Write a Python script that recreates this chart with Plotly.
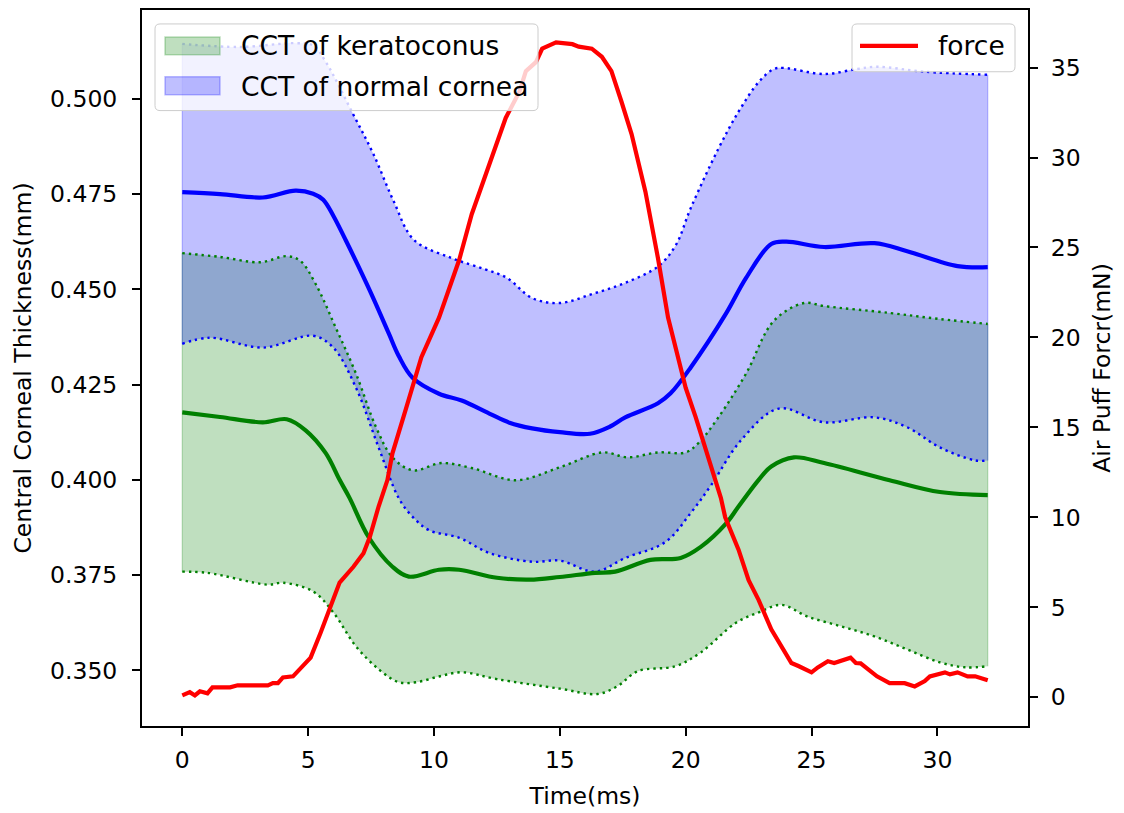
import plotly.graph_objects as go

# ---------------- data ----------------
t_blue_mean = [0, 1.5, 3.2, 4.5, 5.2, 5.6, 6.0, 6.5, 7.0, 7.6, 8.2, 8.6, 9.15, 10.2, 11.1, 12.2, 13.0,
               13.9, 15.0, 16.2, 17.0, 17.6, 18.9, 19.4, 20.2, 21.6, 22.4, 23.4, 24.0, 25.5, 27.5,
               28.8, 30.8, 32.0]
blue_mean = [0.4755, 0.4750, 0.4741, 0.4759, 0.4751, 0.4735, 0.4693, 0.4628, 0.4560, 0.4475, 0.4385,
             0.4325, 0.4268, 0.4226, 0.4208, 0.4174, 0.4150, 0.4135, 0.4125, 0.4121, 0.4140, 0.4164,
             0.4201, 0.4227, 0.4295, 0.4436, 0.4530, 0.4619, 0.4625, 0.4611, 0.4621, 0.4600, 0.4561,
             0.4558]

t_blue_up = [0, 2.3, 4.5, 5.2, 5.7, 6.8, 7.6, 8.4, 9.2, 10.7, 12.0, 12.9, 13.9, 15.0, 16.3, 17.6, 18.9,
             19.6, 20.2, 21.3, 22.1, 22.9, 23.5, 23.9, 25.5, 26.8, 27.6, 29.5, 32.0]
blue_up = [0.5144, 0.5136, 0.5146, 0.5140, 0.5097, 0.4958, 0.4854, 0.4731, 0.4630, 0.4582, 0.4553,
           0.4530, 0.4477, 0.4464, 0.4488, 0.4517, 0.4560, 0.4615, 0.4713, 0.4869, 0.4966, 0.5044,
           0.5078, 0.5081, 0.5065, 0.5078, 0.5084, 0.5071, 0.5063]

t_blue_low = [0, 1.1, 3.2, 5.2, 6.0, 6.9, 7.8, 8.6, 9.15, 9.8, 11.0, 12.2, 13.9, 15.0, 16.4, 17.6,
              19.2, 20.2, 21.0, 22.2, 23.7, 25.5, 27.5, 28.8, 30.1, 31.5, 32.0]
blue_low = [0.4357, 0.4373, 0.4347, 0.4378, 0.4347, 0.4242, 0.4085, 0.3952, 0.3903, 0.3868, 0.3848,
            0.3808, 0.3785, 0.3788, 0.3759, 0.3795, 0.3837, 0.3913, 0.3985, 0.4104, 0.4187, 0.4151,
            0.4164, 0.4138, 0.4085, 0.4051, 0.4051]

t_green_mean = [0, 1.5, 3.2, 4.15, 4.9, 5.7, 6.25, 6.65, 7.4, 8.35, 9.0, 10.2, 11.0, 12.5, 13.8, 15.0,
                16.4, 17.2, 18.6, 19.8, 20.6, 21.6, 22.1, 22.9, 23.4, 24.3, 25.5, 28.1, 30.1, 32.0]
green_mean = [0.4177, 0.4165, 0.4151, 0.4159, 0.4130, 0.4070, 0.4000, 0.3952, 0.3850, 0.3772, 0.3746,
              0.3764, 0.3764, 0.3743, 0.3738, 0.3745, 0.3756, 0.3759, 0.3790, 0.3795, 0.3824, 0.3885,
              0.3930, 0.4000, 0.4035, 0.4059, 0.4044, 0.3999, 0.3968, 0.3960]

t_green_up = [0, 1.5, 3.1, 4.15, 4.7, 5.3, 6.1, 6.9, 7.7, 8.35, 9.15, 10.3, 11.5, 13.25, 15.0, 16.7,
              17.7, 18.9, 20.0, 20.5, 21.3, 22.4, 23.5, 24.7, 25.5, 28.1, 30.1, 32.0]
green_up = [0.4595, 0.4585, 0.4571, 0.4587, 0.4574, 0.4514, 0.4399, 0.4279, 0.4138, 0.4059, 0.4025,
            0.4044, 0.4031, 0.3999, 0.4033, 0.4072, 0.4059, 0.4072, 0.4072, 0.4096, 0.4164, 0.4279,
            0.4417, 0.4464, 0.4456, 0.4438, 0.4422, 0.4409]

t_green_low = [0, 1.0, 3.4, 4.0, 5.2, 6.0, 6.9, 7.8, 8.6, 9.3, 10.2, 11.1, 12.5, 15.0, 16.5, 17.3,
               18.1, 19.6, 20.6, 22.0, 22.9, 23.8, 24.85, 26.2, 27.5, 28.8, 30.1, 31.1, 32.0]
green_low = [0.3759, 0.3756, 0.3725, 0.3730, 0.3707, 0.3652, 0.3563, 0.3503, 0.3469, 0.3469, 0.3484,
             0.3495, 0.3477, 0.3452, 0.3438, 0.3459, 0.3498, 0.3511, 0.3547, 0.3625, 0.3652, 0.3672,
             0.3641, 0.3615, 0.3589, 0.3555, 0.3521, 0.3508, 0.3511]

t_force = [0, 0.3, 0.5, 0.7, 1.0, 1.2, 1.9, 2.2, 3.4, 3.6, 3.8, 4.0, 4.4, 4.8, 5.1, 5.5, 5.9, 6.25,
           6.8, 7.2, 7.45, 7.8, 8.15, 8.35, 8.9, 9.5, 10.2, 11.0, 11.5, 12.2, 12.85, 13.4, 13.65,
           14.05, 14.3, 14.85, 15.5, 15.75, 16.27, 16.67, 17.05, 17.45, 17.85, 18.4, 18.9, 19.3,
           20.0, 20.4, 20.8, 21.4, 21.57, 22.1, 22.5, 22.9, 23.4, 23.8, 24.2, 24.5, 25.0, 25.25,
           25.65, 25.9, 26.55, 26.76, 26.95, 27.6, 28.1, 28.7, 29.1, 29.5, 29.7, 30.3, 30.5, 30.8,
           31.2, 31.5, 32.0]
force = [0.1, 0.28, 0.1, 0.33, 0.22, 0.55, 0.55, 0.66, 0.66, 0.78, 0.78, 1.1, 1.16, 1.72, 2.2, 3.6,
         5.0, 6.37, 7.25, 8.0, 8.9, 10.6, 12.07, 13.56, 16.1, 18.9, 21.1, 24.3, 26.85, 29.6, 32.2,
         33.67, 34.8, 35.3, 36.05, 36.4, 36.3, 36.16, 36.05, 35.6, 34.8, 33.1, 31.3, 28.1, 24.4,
         21.1, 17.2, 15.56, 13.7, 11.07, 10.0, 8.2, 6.5, 5.4, 3.77, 2.8, 1.9, 1.72, 1.38, 1.66, 2.0,
         1.9, 2.2, 1.9, 1.88, 1.16, 0.78, 0.78, 0.6, 0.9, 1.16, 1.38, 1.27, 1.38, 1.16, 1.16, 0.94]

x_ticks = [0, 5, 10, 15, 20, 25, 30]
y_ticks = [0.350, 0.375, 0.400, 0.425, 0.450, 0.475, 0.500]
y2_ticks = [0, 5, 10, 15, 20, 25, 30, 35]

legend_labels = ["CCT of keratoconus", "CCT of normal cornea"]
force_label = "force"

# ---------------- styling ----------------
GREEN = "#008000"
BLUE = "#0000ff"
RED = "#ff0000"
GREEN_FILL = "rgba(0,128,0,0.25)"
BLUE_FILL = "rgba(0,0,255,0.25)"
FONT = "DejaVu Sans"
W, H = 1124, 813
ML, MR, MT, MB = 142, 96, 8, 86
PW, PH = W - ML - MR, H - MT - MB


def px(xp, yp):
    """pixel position -> paper coordinates"""
    return (xp - ML) / PW, 1 - (yp - MT) / PH


def rounded_box(x0, y0, x1, y1, r=5):
    pts = []
    a = px(x0 + r, y0); pts.append(f"M{a[0]},{a[1]}")
    a = px(x1 - r, y0); pts.append(f"L{a[0]},{a[1]}")
    c = px(x1, y0); a = px(x1, y0 + r); pts.append(f"Q{c[0]},{c[1]} {a[0]},{a[1]}")
    a = px(x1, y1 - r); pts.append(f"L{a[0]},{a[1]}")
    c = px(x1, y1); a = px(x1 - r, y1); pts.append(f"Q{c[0]},{c[1]} {a[0]},{a[1]}")
    a = px(x0 + r, y1); pts.append(f"L{a[0]},{a[1]}")
    c = px(x0, y1); a = px(x0, y1 - r); pts.append(f"Q{c[0]},{c[1]} {a[0]},{a[1]}")
    a = px(x0, y0 + r); pts.append(f"L{a[0]},{a[1]}")
    c = px(x0, y0); a = px(x0 + r, y0); pts.append(f"Q{c[0]},{c[1]} {a[0]},{a[1]}")
    return " ".join(pts) + " Z"


fig = go.Figure()

# bands: (lower x, lower y, upper x, upper y, fill colour, name)
bands = [(t_green_low, green_low, t_green_up, green_up, GREEN_FILL, legend_labels[0]),
         (t_blue_low, blue_low, t_blue_up, blue_up, BLUE_FILL, legend_labels[1])]
for tl, vl, tu, vu, fc, name in bands:
    fig.add_trace(go.Scatter(x=tl, y=vl, mode="lines", line=dict(width=0, shape="spline"),
                             showlegend=False, hoverinfo="skip"))
    fig.add_trace(go.Scatter(x=tu, y=vu, mode="lines", line=dict(width=0, shape="spline"),
                             fill="tonexty", fillcolor=fc, name=name, showlegend=False))
# faint polygon edges at both ends of each band (as matplotlib's fill_between draws)
for tl, vl, tu, vu, fc, name in bands:
    for i in (0, -1):
        fig.add_trace(go.Scatter(x=[tl[i], tu[i]], y=[vl[i], vu[i]], mode="lines",
                                 line=dict(color=fc, width=1.2), showlegend=False, hoverinfo="skip"))

# dotted bounds
for tx, vy, col in [(t_green_up, green_up, GREEN), (t_green_low, green_low, GREEN),
                    (t_blue_up, blue_up, BLUE), (t_blue_low, blue_low, BLUE)]:
    fig.add_trace(go.Scatter(x=tx, y=vy, mode="lines",
                             line=dict(color=col, width=2.4, dash="2.4px,4px", shape="spline"),
                             showlegend=False))

# means
fig.add_trace(go.Scatter(x=t_green_mean, y=green_mean, mode="lines",
                         line=dict(color=GREEN, width=4.2, shape="spline"), showlegend=False))
fig.add_trace(go.Scatter(x=t_blue_mean, y=blue_mean, mode="lines",
                         line=dict(color=BLUE, width=4.2, shape="spline"), showlegend=False))

# force on secondary axis
fig.add_trace(go.Scatter(x=t_force, y=force, mode="lines", yaxis="y2",
                         line=dict(color=RED, width=4.2), name=force_label, showlegend=False))

# ---------------- legends (drawn as boxes + text) ----------------
shapes = []
annotations = []
shapes.append(dict(type="path", xref="paper", yref="paper", path=rounded_box(155, 22, 538, 109),
                   fillcolor="rgba(255,255,255,0.8)", line=dict(color="#cccccc", width=1), layer="above"))
for (y0, y1, yc), fc, lab in [((35, 53, 44), GREEN_FILL, legend_labels[0]),
                               ((75, 93, 85), BLUE_FILL, legend_labels[1])]:
    a = px(165, y0); b = px(220, y1)
    shapes.append(dict(type="rect", xref="paper", yref="paper", x0=a[0], x1=b[0], y0=b[1], y1=a[1],
                       fillcolor=fc, line=dict(color=fc, width=1.5), layer="above"))
    t = px(239, yc)
    annotations.append(dict(x=t[0], y=t[1], xref="paper", yref="paper", text=lab, showarrow=False,
                            xanchor="left", yanchor="middle",
                            font=dict(size=26.5, family=FONT, color="black")))

shapes.append(dict(type="path", xref="paper", yref="paper", path=rounded_box(852, 22, 1015, 70),
                   fillcolor="rgba(255,255,255,0.8)", line=dict(color="#cccccc", width=1), layer="above"))
a = px(860, 44); b = px(918, 44)
shapes.append(dict(type="line", xref="paper", yref="paper", x0=a[0], x1=b[0], y0=a[1], y1=b[1],
                   line=dict(color=RED, width=4.2), layer="above"))
t = px(936, 44)
annotations.append(dict(x=t[0], y=t[1], xref="paper", yref="paper", text=force_label, showarrow=False,
                        xanchor="left", yanchor="middle",
                        font=dict(size=26.5, family=FONT, color="black")))

axis_common = dict(showgrid=False, zeroline=False, showline=True, linecolor="black", linewidth=2,
                   ticks="outside", ticklen=8, tickwidth=1.5, tickcolor="black",
                   tickfont=dict(size=23.5, family=FONT, color="black"))

fig.update_layout(
    width=W, height=H,
    margin=dict(l=ML, r=MR, t=MT, b=MB),
    paper_bgcolor="white", plot_bgcolor="white",
    font=dict(family=FONT, color="black", size=23.5),
    showlegend=False,
    shapes=shapes, annotations=annotations,
    xaxis=dict(range=[-1.6, 33.6], tickvals=x_ticks, mirror=True,
               title=dict(text="Time(ms)", font=dict(size=23.5), standoff=14),
               ticklabelstandoff=4, **axis_common),
    yaxis=dict(range=[0.3354, 0.5233], tickvals=y_ticks, tickformat=".3f", mirror=True,
               title=dict(text="Central Corneal Thickness(mm)", font=dict(size=23.5), standoff=12),
               ticklabelstandoff=10, **axis_common),
    yaxis2=dict(range=[-1.6, 38.2], tickvals=y2_ticks, overlaying="y", side="right",
                title=dict(text="Air Puff Forcr(mN)", font=dict(size=23.5), standoff=14),
                ticklabelstandoff=8, **axis_common),
)

fig.write_html("out.html")
